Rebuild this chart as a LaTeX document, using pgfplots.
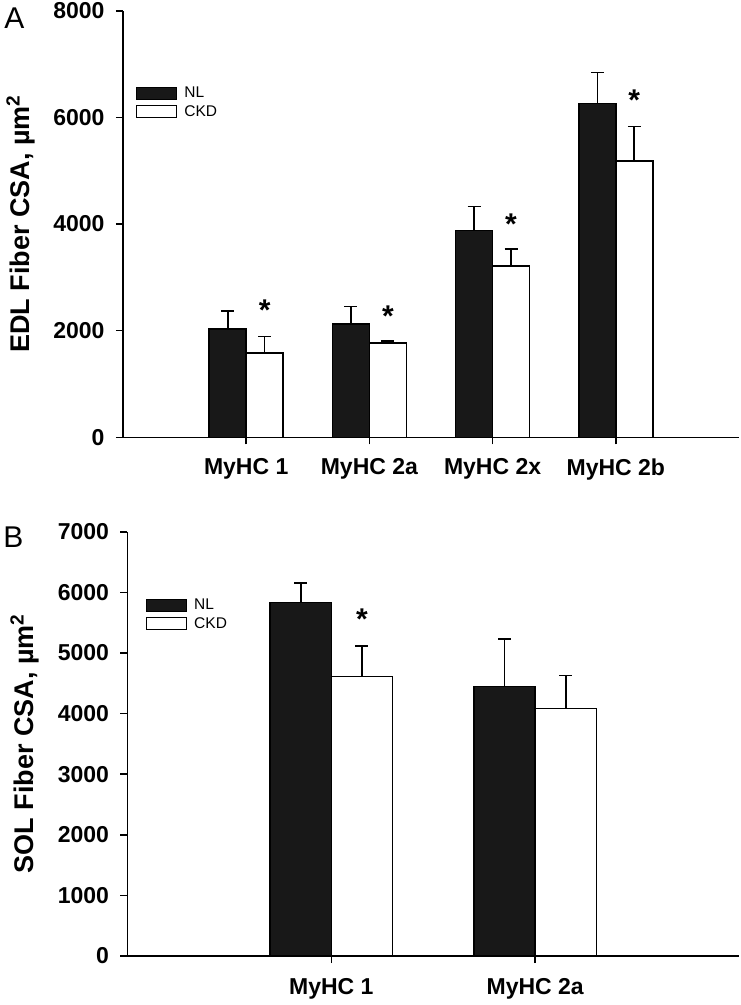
\documentclass[border=0pt]{standalone}
\usepackage{pgfplots}
\pgfplotsset{compat=1.18}
\usepackage{fontspec}
\setmainfont{Liberation Sans}
\definecolor{barblack}{HTML}{181818}
\pgfplotsset{
  common/.style={
    scale only axis,
    axis x line*=bottom, axis y line*=left,
    axis line style={line width=1.6pt, -},
    tick align=outside,
    major tick length=7pt,
    tick style={line width=1.6pt, black},
    ticklabel style={font=\fontsize{23}{23}\selectfont\bfseries},
    yticklabel style={xshift=-8pt},
    /pgf/number format/assume math mode=true,
    /pgf/number format/set thousands separator={},
    scaled y ticks=false,
    ymin=0, xmin=0,
    clip=false,
    ylabel style={font=\fontsize{27}{27}\selectfont\bfseries, anchor=center},
    legend style={draw=none, fill=none, inner sep=0pt, font=\fontsize{15.5}{15.5}\selectfont,
      /tikz/every odd column/.append style={column sep=5pt}, row sep=2pt},
    legend cell align=left,
  },
  nlbar/.style={ybar, bar width=0.3, bar shift=-0.15, fill=barblack, draw=black, line width=1.5pt},
  ckdbar/.style={ybar, bar width=0.3, bar shift=0.15, fill=white, draw=black, line width=1.5pt},
  errs/.style={draw=none, mark=none,
     error bars/.cd, y dir=plus, y explicit, error bar style={line width=1.6pt, black},
     error mark=-, error mark options={rotate=90, line width=1.6pt, mark size=6.5pt, black}, /pgfplots/.cd},
  stars/.style={draw=none, mark=none, nodes near coords={\bfseries *},
     every node near coord/.style={anchor=center, font=\fontsize{30}{30}\selectfont, yshift=-6.5pt}},
}
\newcommand{\nlimg}{\addlegendimage{legend image code/.code={\draw[fill=barblack, draw=black, line width=1.2pt] (0pt,-6pt) rectangle (40pt,6pt);}}}
\newcommand{\ckdimg}{\addlegendimage{legend image code/.code={\draw[fill=white, draw=black, line width=1.2pt] (0pt,-6pt) rectangle (40pt,6pt);}}}
\begin{document}
\begin{tikzpicture}
\useasboundingbox (0pt,0pt) rectangle (741pt,-1005pt);
\node[font=\fontsize{30}{30}\selectfont] at (14.5pt,-18.5pt) {A};
\node[font=\fontsize{30}{30}\selectfont] at (13.5pt,-537pt) {B};
% Panel A
\begin{axis}[common, at={(123pt,-437.3pt)}, anchor=south west, width=616pt, height=426.6pt,
  xmax=5, ymax=8000, ytick={0,2000,4000,6000,8000},
  xtick={1,2,3,4}, xticklabels={MyHC 1,MyHC 2a,MyHC 2x,MyHC 2b},
  xticklabel style={yshift=-11pt},
  ylabel={EDL Fiber CSA, µm\raisebox{10pt}{\fontsize{19}{19}\selectfont 2}},
  ylabel style={at={(axis description cs:-0.166,0.5)}},
  legend style={at={(axis description cs:0.0211,0.826)}, anchor=north west}]
\nlimg \addlegendentry{NL}
\ckdimg \addlegendentry{CKD}
\addplot[forget plot, nlbar] coordinates {(1,2033) (2,2121) (3,3878) (4,6256)};
\addplot[forget plot, ckdbar] coordinates {(1,1577) (2,1764) (3,3215) (4,5186)};
\addplot[forget plot, errs] coordinates {(0.85,2033) +- (0,338) (1.85,2121) +- (0,330) (2.85,3878) +- (0,450) (3.85,6256) +- (0,588)};
\addplot[forget plot, errs] coordinates {(1.15,1577) +- (0,311) (2.15,1764) +- (0,44) (3.15,3215) +- (0,314) (4.15,5186) +- (0,644)};
\addplot[forget plot, stars] coordinates {(1.15,2515) (2.15,2396) (3.15,4110) (4.15,6437)};
\end{axis}
% Panel B
\begin{axis}[common, at={(127.5pt,-956pt)}, anchor=south west, width=611.5pt, height=424.3pt,
  xmax=3, ymax=7000, ytick={0,1000,...,7000},
  xtick={1,2}, xticklabels={MyHC 1,MyHC 2a},
  xticklabel style={yshift=-12pt},
  ylabel={SOL Fiber CSA, µm\raisebox{10pt}{\fontsize{19}{19}\selectfont 2}},
  ylabel style={at={(axis description cs:-0.168,0.5)}},
  legend style={at={(axis description cs:0.030,0.846)}, anchor=north west}]
\nlimg \addlegendentry{NL}
\ckdimg \addlegendentry{CKD}
\addplot[forget plot, nlbar] coordinates {(1,5830) (2,4444)};
\addplot[forget plot, ckdbar] coordinates {(1,4609) (2,4087)};
\addplot[forget plot, errs] coordinates {(0.85,5830) +- (0,320) (1.85,4444) +- (0,787)};
\addplot[forget plot, errs] coordinates {(1.15,4609) +- (0,507) (2.15,4087) +- (0,538)};
\addplot[forget plot, stars] coordinates {(1.15,5660)};
\end{axis}
\end{tikzpicture}
\end{document}
